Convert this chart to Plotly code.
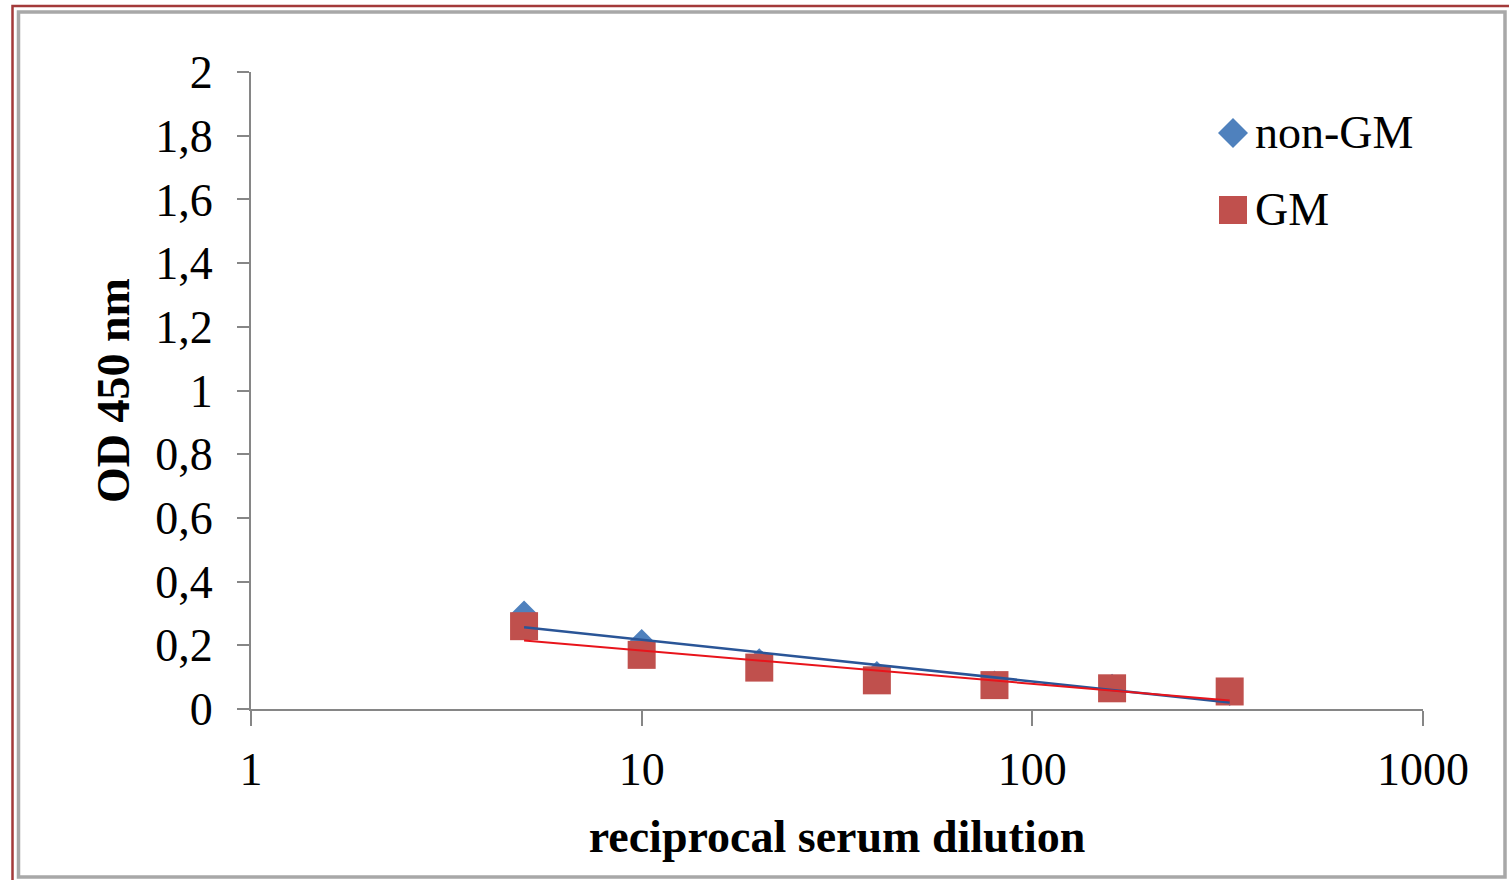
import numpy as np
import plotly.graph_objects as go

# Data
dilution = [5, 10, 20, 40, 80, 160, 320]
non_gm = [0.30, 0.21, 0.15, 0.11, 0.08, 0.07, 0.05]
gm = [0.26, 0.17, 0.13, 0.09, 0.075, 0.065, 0.055]
series_names = ["non-GM", "GM"]
y_tickvals = [0, 0.2, 0.4, 0.6, 0.8, 1.0, 1.2, 1.4, 1.6, 1.8, 2.0]
y_ticktext = ["0", "0,2", "0,4", "0,6", "0,8", "1", "1,2", "1,4", "1,6", "1,8", "2"]
x_tickvals = [1, 10, 100, 1000]
x_ticktext = ["1", "10", "100", "1000"]

FONT = "Liberation Serif, Times New Roman, serif"
BLUE = "#4F81BD"
RED = "#C0504D"
BLUE_LINE = "#2A5597"
RED_LINE = "#E8141B"


def log_fit(x, y):
    lx = np.log10(np.array(x, dtype=float))
    k, b = np.polyfit(lx, np.array(y, dtype=float), 1)
    xs = [min(x), max(x)]
    return xs, [k * np.log10(v) + b for v in xs]


fig = go.Figure()

fx, fy = log_fit(dilution, non_gm)
fx2, fy2 = log_fit(dilution, gm)

fig.add_trace(go.Scatter(x=dilution, y=non_gm, mode="markers", name=series_names[0],
                         marker=dict(symbol="diamond", size=20, color=BLUE), showlegend=False))
fig.add_trace(go.Scatter(x=dilution, y=gm, mode="markers", name=series_names[1],
                         marker=dict(symbol="square", size=28, color=RED), showlegend=False))
fig.add_trace(go.Scatter(x=fx, y=fy, mode="lines", line=dict(color=BLUE_LINE, width=2.5),
                         showlegend=False, hoverinfo="skip"))
fig.add_trace(go.Scatter(x=fx2, y=fy2, mode="lines", line=dict(color=RED_LINE, width=2),
                         showlegend=False, hoverinfo="skip"))

W, H = 1509, 880
L, R, T, B = 251, 86, 72, 171
pw, ph = W - L - R, H - T - B


def px_x(p):
    return (p - L) / pw


def px_y(p):
    return (H - B - p) / ph


shapes = [
    # outer dark red frame
    dict(type="rect", xref="paper", yref="paper",
         x0=px_x(12.5), x1=px_x(1530), y0=px_y(900), y1=px_y(6),
         line=dict(color="#A33A3A", width=2.5), fillcolor="rgba(0,0,0,0)", layer="below"),
    # inner gray frame
    dict(type="rect", xref="paper", yref="paper",
         x0=px_x(18.5), x1=px_x(1505), y0=px_y(877), y1=px_y(12),
         line=dict(color="#A8A8A8", width=3.5), fillcolor="rgba(0,0,0,0)", layer="below"),
]

# Legend (drawn manually so that the symbols can be as large as in the original)
lx, ly1, ly2 = 1233, 133, 210
d = 15
shapes.append(dict(type="path", xref="paper", yref="paper",
                   path=f"M {px_x(lx)} {px_y(ly1 - d)} L {px_x(lx + d)} {px_y(ly1)} "
                        f"L {px_x(lx)} {px_y(ly1 + d)} L {px_x(lx - d)} {px_y(ly1)} Z",
                   fillcolor=BLUE, line=dict(width=0)))
s = 14
shapes.append(dict(type="rect", xref="paper", yref="paper",
                   x0=px_x(lx - s), x1=px_x(lx + s), y0=px_y(ly2 + s), y1=px_y(ly2 - s),
                   fillcolor=RED, line=dict(width=0)))

annotations = [
    dict(x=px_x(1253), y=px_y(ly1), xref="paper", yref="paper", text=series_names[0],
         showarrow=False, xanchor="left", yanchor="middle",
         font=dict(family=FONT, size=46, color="black")),
    dict(x=px_x(1253), y=px_y(ly2), xref="paper", yref="paper", text=series_names[1],
         showarrow=False, xanchor="left", yanchor="middle",
         font=dict(family=FONT, size=46, color="black")),
]

fig.update_layout(
    width=W, height=H,
    margin=dict(l=L, r=R, t=T, b=B),
    paper_bgcolor="white", plot_bgcolor="white",
    font=dict(family=FONT, size=46, color="black"),
    shapes=shapes,
    annotations=annotations,
    showlegend=False,
    xaxis=dict(type="log", range=[0, 3], tickvals=x_tickvals, ticktext=x_ticktext,
               showgrid=False, zeroline=False, showline=True, linecolor="#868686", linewidth=2,
               ticks="outside", ticklen=15, tickwidth=2, tickcolor="#868686",
               ticklabelstandoff=4,
               title=dict(text="<b>reciprocal serum dilution</b>", standoff=26,
                          font=dict(size=46, family=FONT))),
    yaxis=dict(range=[0, 2], tickvals=y_tickvals, ticktext=y_ticktext,
               showgrid=False, zeroline=False, showline=True, linecolor="#868686", linewidth=2,
               ticks="outside", ticklen=12, tickwidth=2, tickcolor="#868686",
               ticklabelstandoff=15,
               title=dict(text="<b>OD 450 nm</b>", standoff=11,
                          font=dict(size=46, family=FONT))),
)

fig.write_html("out.html")
